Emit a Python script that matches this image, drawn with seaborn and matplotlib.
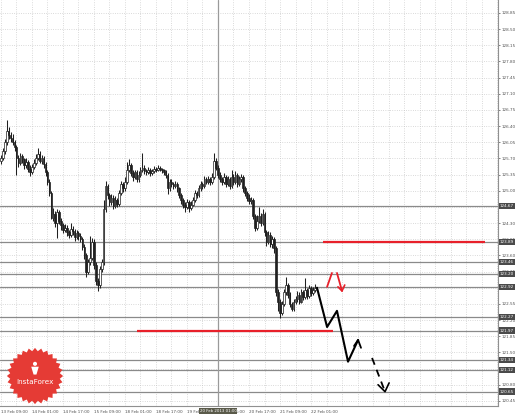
import numpy as np
import pandas as pd
import matplotlib
matplotlib.use("Agg")
import matplotlib.pyplot as plt
import matplotlib.transforms as mtransforms
from matplotlib.patches import Polygon, Circle
import seaborn as sns

sns.set_style("white")
plt.rcParams["font.family"] = ["DejaVu Sans"]

# ---------------- data ----------------
opens = [125.65, 125.70, 125.85, 126.05, 126.30, 126.20, 126.15, 126.05, 125.95, 125.70,
         125.60, 125.75, 125.68, 125.55, 125.62, 125.48, 125.40, 125.52, 125.60, 125.72,
         125.80, 125.65, 125.70, 125.58, 125.40, 125.20, 124.95, 124.42, 124.50, 124.30,
         124.55, 124.35, 124.25, 124.15, 124.20, 124.10, 124.05, 124.18, 124.12, 124.00,
         124.08, 124.02, 123.95, 123.78, 123.60, 123.25, 123.45, 123.55, 123.90, 123.40,
         123.05, 122.95, 123.30, 123.45, 124.60, 125.10, 124.90, 124.75, 124.85, 124.68,
         124.80, 124.72, 124.95, 125.15, 125.05, 125.20, 125.45, 125.55, 125.38, 125.30,
         125.40, 125.25, 125.35, 125.45, 125.50, 125.42, 125.40, 125.45, 125.38, 125.42,
         125.48, 125.45, 125.50, 125.47, 125.44, 125.40, 125.35, 125.05, 125.20, 125.15,
         125.10, 125.15, 125.05, 124.90, 124.80, 124.70, 124.65, 124.75, 124.62, 124.70,
         124.80, 124.95, 124.90, 125.05, 125.15, 125.10, 125.25, 125.20, 125.25, 125.18,
         125.30, 125.65, 125.50, 125.35, 125.25, 125.20, 125.30, 125.15, 125.25, 125.10,
         125.30, 125.20, 125.35, 125.15, 125.25, 125.30, 125.05, 124.95, 124.85, 124.78,
         124.80, 124.45, 124.20, 124.35, 124.45, 124.30, 124.50, 124.10, 123.90, 124.05,
         123.85, 123.95, 123.75, 122.80, 122.60, 122.35, 122.55, 122.80, 122.95, 122.75,
         122.55, 122.45, 122.60, 122.65, 122.75, 122.60, 122.80, 122.70, 122.85, 122.72,
         122.90, 122.78, 122.85]
highs = [125.78, 125.92, 126.12, 126.53, 126.38, 126.28, 126.22, 126.10, 126.00, 125.78,
         125.82, 125.80, 125.72, 125.70, 125.66, 125.55, 125.58, 125.68, 125.80, 125.92,
         125.85, 125.78, 125.75, 125.62, 125.45, 125.25, 125.00, 124.62, 124.56, 124.60,
         124.58, 124.40, 124.30, 124.28, 124.26, 124.16, 124.30, 124.24, 124.18, 124.15,
         124.12, 124.08, 124.00, 123.85, 123.66, 123.52, 124.02, 123.98, 123.95, 123.45,
         123.12, 123.38, 123.52, 124.80, 125.22, 125.15, 124.95, 124.92, 124.90, 124.88,
         124.85, 125.02, 125.22, 125.20, 125.30, 125.62, 125.68, 125.60, 125.44, 125.46,
         125.44, 125.42, 125.52, 125.82, 125.56, 125.48, 125.52, 125.50, 125.48, 125.54,
         125.52, 125.55, 125.54, 125.50, 125.48, 125.44, 125.38, 125.26, 125.25, 125.20,
         125.22, 125.18, 125.08, 124.95, 124.85, 124.76, 124.82, 124.80, 124.78, 124.86,
         125.02, 125.00, 125.12, 125.22, 125.20, 125.32, 125.30, 125.32, 125.30, 125.38,
         125.82, 125.70, 125.55, 125.40, 125.30, 125.38, 125.34, 125.32, 125.30, 125.45,
         125.36, 125.42, 125.38, 125.32, 125.36, 125.34, 125.10, 125.00, 124.92, 124.86,
         124.84, 124.50, 124.48, 124.65, 124.52, 124.60, 124.55, 124.15, 124.12, 124.10,
         124.02, 124.00, 123.80, 122.88, 122.66, 122.62, 122.88, 123.13, 123.00, 122.80,
         122.60, 122.66, 122.72, 122.82, 122.80, 122.88, 122.85, 123.11, 122.90, 122.96,
         122.94, 122.92, 122.98]
lows = [125.58, 125.66, 125.80, 126.00, 126.12, 126.05, 125.98, 125.85, 125.35, 125.52,
        125.55, 125.60, 125.48, 125.50, 125.40, 125.33, 125.36, 125.48, 125.55, 125.66,
        125.60, 125.58, 125.50, 125.32, 125.12, 124.88, 124.38, 124.35, 124.22, 123.98,
        124.28, 124.15, 124.08, 124.10, 124.02, 123.98, 124.00, 124.05, 123.92, 123.95,
        123.94, 123.88, 123.72, 123.52, 123.14, 123.20, 123.40, 123.50, 123.30, 122.95,
        122.82, 122.90, 123.25, 123.40, 124.55, 124.82, 124.66, 124.70, 124.60, 124.62,
        124.64, 124.68, 124.90, 124.98, 125.00, 125.15, 125.40, 125.32, 125.22, 125.25,
        125.18, 125.20, 125.30, 125.40, 125.36, 125.34, 125.36, 125.33, 125.34, 125.38,
        125.40, 125.42, 125.42, 125.38, 125.34, 125.28, 124.92, 125.00, 125.08, 125.04,
        125.05, 124.98, 124.84, 124.72, 124.62, 124.55, 124.60, 124.55, 124.58, 124.66,
        124.75, 124.84, 124.86, 125.00, 125.04, 125.06, 125.14, 125.15, 125.12, 125.14,
        125.25, 125.44, 125.28, 125.18, 125.12, 125.15, 125.08, 125.10, 125.04, 125.06,
        125.12, 125.15, 125.08, 125.10, 125.20, 124.98, 124.88, 124.78, 124.72, 124.72,
        124.38, 124.12, 124.15, 124.30, 124.24, 124.26, 124.02, 123.80, 123.84, 123.78,
        123.76, 123.66, 122.72, 122.40, 122.25, 122.30, 122.50, 122.75, 122.68, 122.48,
        122.40, 122.40, 122.55, 122.60, 122.54, 122.56, 122.64, 122.66, 122.66, 122.68,
        122.72, 122.74, 122.80]
closes = [125.70, 125.85, 126.05, 126.30, 126.20, 126.15, 126.05, 125.95, 125.70, 125.60,
          125.75, 125.68, 125.55, 125.62, 125.48, 125.40, 125.52, 125.60, 125.72, 125.80,
          125.65, 125.70, 125.58, 125.40, 125.20, 124.95, 124.42, 124.50, 124.30, 124.55,
          124.35, 124.25, 124.15, 124.20, 124.10, 124.05, 124.18, 124.12, 124.00, 124.08,
          124.02, 123.95, 123.78, 123.60, 123.25, 123.45, 123.55, 123.90, 123.40, 123.05,
          122.95, 123.30, 123.45, 124.60, 125.10, 124.90, 124.75, 124.85, 124.68, 124.80,
          124.72, 124.95, 125.15, 125.05, 125.20, 125.45, 125.55, 125.38, 125.30, 125.40,
          125.25, 125.35, 125.45, 125.50, 125.42, 125.40, 125.45, 125.38, 125.42, 125.48,
          125.45, 125.50, 125.47, 125.44, 125.40, 125.35, 125.05, 125.20, 125.15, 125.10,
          125.15, 125.05, 124.90, 124.80, 124.70, 124.65, 124.75, 124.62, 124.70, 124.80,
          124.95, 124.90, 125.05, 125.15, 125.10, 125.25, 125.20, 125.25, 125.18, 125.30,
          125.65, 125.50, 125.35, 125.25, 125.20, 125.30, 125.15, 125.25, 125.10, 125.30,
          125.20, 125.35, 125.15, 125.25, 125.30, 125.05, 124.95, 124.85, 124.78, 124.80,
          124.45, 124.20, 124.35, 124.45, 124.30, 124.50, 124.10, 123.90, 124.05, 123.85,
          123.95, 123.75, 122.80, 122.60, 122.35, 122.55, 122.80, 122.95, 122.75, 122.55,
          122.45, 122.60, 122.65, 122.75, 122.60, 122.80, 122.70, 122.85, 122.72, 122.90,
          122.78, 122.85, 122.90]

level_prices = [124.67, 123.89, 123.46, 123.20, 122.92, 122.27, 121.97, 121.34, 121.12, 120.65]

y_ticks = [120.45, 120.80, 121.15, 121.50, 121.85, 122.20, 122.55, 122.90, 123.25,
           123.60, 123.95, 124.30, 124.65, 125.00, 125.35, 125.70, 126.05, 126.40,
           126.75, 127.10, 127.45, 127.80, 128.15, 128.50, 128.85]

x_tick_bars = [0, 16, 32, 48, 64, 80, 96, 112, 128, 144, 160]
x_tick_labels = ["13 Feb 09:00", "14 Feb 01:00", "14 Feb 17:00", "15 Feb 09:00",
                 "18 Feb 01:00", "18 Feb 17:00", "19 Feb 09:00", "20 Feb 01:00",
                 "20 Feb 17:00", "21 Feb 09:00", "22 Feb 01:00"]
marker_bar = 112
marker_label = "20 Feb 2013 01:00"

# red resistance / support segments: (start bar, end bar, price)
red_start = [166.2, 70.2]
red_end = [249.8, 171.4]
red_price = [123.88, 121.97]

# forecast path (black solid), dashed continuation, red alternative
fc_bars = [163.1, 168.3, 173.4, 179.1, 184.3]
fc_price = [122.90, 122.05, 122.40, 121.30, 121.77]
fc_head_bars = [182.2, 184.3, 185.8]
fc_head_price = [121.64, 121.77, 121.60]
dash_bars = [191.5, 198.2]
dash_price = [121.38, 120.65]
dash_head_bars = [194.6, 198.2, 200.3]
dash_head_price = [120.80, 120.65, 120.84]
red_up_bars = [168.3, 170.8]
red_up_price = [122.92, 123.22]
red_dn_bars = [173.4, 176.0]
red_dn_price = [123.22, 122.83]
red_head_bars = [173.9, 176.0, 177.4]
red_head_price = [122.92, 122.83, 122.96]

# ---------------- figure ----------------
W, H = 518, 415
fig = plt.figure(figsize=(W / 100, H / 100), dpi=100)
fig.patch.set_facecolor("white")
ax = fig.add_axes([0, 9 / H, 498 / W, 406 / H])
ax.set_facecolor("white")

df = pd.DataFrame({"bar": np.arange(len(closes)), "open": opens, "high": highs,
                   "low": lows, "close": closes})
df["high"] = df[["high", "open", "close"]].max(axis=1)
df["low"] = df[["low", "open", "close"]].min(axis=1)

ax.set_xlim(-0.5, 256.5)
ax.set_ylim(120.34, 129.13)

# grid
for b in range(0, 257, 8):
    ax.axvline(b, color="#c4c4c4", lw=0.55, ls=(0, (1, 2)), zorder=0)
for t in y_ticks:
    ax.axhline(t, color="#c4c4c4", lw=0.55, ls=(0, (1, 2)), zorder=0)

# level lines
for p in level_prices:
    ax.axhline(p, color="#8a8a8a", lw=0.9, zorder=1)
ax.axvline(marker_bar, color="#9a9a9a", lw=0.9, zorder=1)

# candles
ax.vlines(df["bar"], df["low"], df["high"], color="#202020", lw=0.75, zorder=3)
bull = df[df["close"] >= df["open"]]
bear = df[df["close"] < df["open"]]
ax.bar(bull["bar"], (bull["close"] - bull["open"]).clip(lower=0.015), bottom=bull["open"],
       width=0.8, color="white", edgecolor="#202020", lw=0.5, zorder=4)
ax.bar(bear["bar"], bear["open"] - bear["close"], bottom=bear["close"],
       width=0.8, color="#202020", edgecolor="#202020", lw=0.5, zorder=4)

# red horizontal segments
for s, e, p in zip(red_start, red_end, red_price):
    ax.plot([s, e], [p, p], color="#e8202a", lw=1.6, zorder=5, solid_capstyle="butt")

# forecast paths
sns.lineplot(x=fc_bars, y=fc_price, sort=False, color="black", lw=1.5, ax=ax, zorder=6)
sns.lineplot(x=fc_head_bars, y=fc_head_price, sort=False, color="black", lw=1.3, ax=ax, zorder=6)
ax.plot(dash_bars, dash_price, color="black", lw=1.3, ls=(0, (4, 3)), zorder=6)
sns.lineplot(x=dash_head_bars, y=dash_head_price, sort=False, color="black", lw=1.2, ax=ax, zorder=6)
sns.lineplot(x=red_up_bars, y=red_up_price, sort=False, color="#e8202a", lw=1.3, ax=ax, zorder=6)
ax.plot(red_dn_bars, red_dn_price, color="#e8202a", lw=1.3, zorder=6)
ax.plot(red_head_bars, red_head_price, color="#e8202a", lw=1.2, zorder=6)

# axes styling
for s in ["top", "left"]:
    ax.spines[s].set_visible(False)
for s in ["right", "bottom"]:
    ax.spines[s].set_color("#909090")
    ax.spines[s].set_linewidth(0.8)

ax.yaxis.tick_right()
ax.set_yticks(y_ticks)
ax.set_yticklabels([f"{t:.2f}" for t in y_ticks])
ax.tick_params(axis="y", labelsize=3.0, colors="#505050", length=1.5, width=0.5, pad=1.2)
ax.set_xticks(x_tick_bars)
ax.set_xticklabels(x_tick_labels, ha="left")
ax.tick_params(axis="x", labelsize=3.0, colors="#505050", length=2, width=0.5, pad=1)
ax.set_xlabel("")
ax.set_ylabel("")
if ax.get_legend():
    ax.get_legend().remove()

# highlighted price labels
trans_y = mtransforms.blended_transform_factory(ax.transAxes, ax.transData)
for p in level_prices:
    ax.text(1.004, p, f"{p:.2f}", transform=trans_y, fontsize=3.0, color="white",
            va="center", ha="left", zorder=10, clip_on=False,
            bbox=dict(boxstyle="square,pad=0.3", fc="#4a4a4a", ec="none"))

# highlighted date label
trans_x = mtransforms.blended_transform_factory(ax.transData, ax.transAxes)
ax.text(marker_bar, -0.012, marker_label, transform=trans_x, fontsize=2.8, color="white",
        va="center", ha="center", zorder=10, clip_on=False,
        bbox=dict(boxstyle="square,pad=0.25", fc="#5a5a4a", ec="none"))

# logo
lax = fig.add_axes([6 / W, 1 - 405 / H, 58 / W, 58 / H])
lax.set_xlim(-1, 1)
lax.set_ylim(-1, 1)
lax.set_aspect("equal")
lax.axis("off")
n = 28
ang = np.linspace(0, 2 * np.pi, 2 * n, endpoint=False)
rad = np.where(np.arange(2 * n) % 2 == 0, 0.97, 0.86)
lax.add_patch(Polygon(np.c_[rad * np.cos(ang), rad * np.sin(ang)], closed=True,
                      fc="#e53b35", ec="none"))
lax.add_patch(Circle((0, 0.42), 0.07, fc="white", ec="none"))
lax.add_patch(Polygon([[-0.13, 0.32], [0.13, 0.32], [0.05, 0.05], [-0.05, 0.05]],
                      closed=True, fc="white", ec="none"))
lax.text(0, -0.22, "InstaForex", color="white", fontsize=5.2, ha="center", va="center")

fig.savefig("out.png", dpi=100, facecolor="white")
